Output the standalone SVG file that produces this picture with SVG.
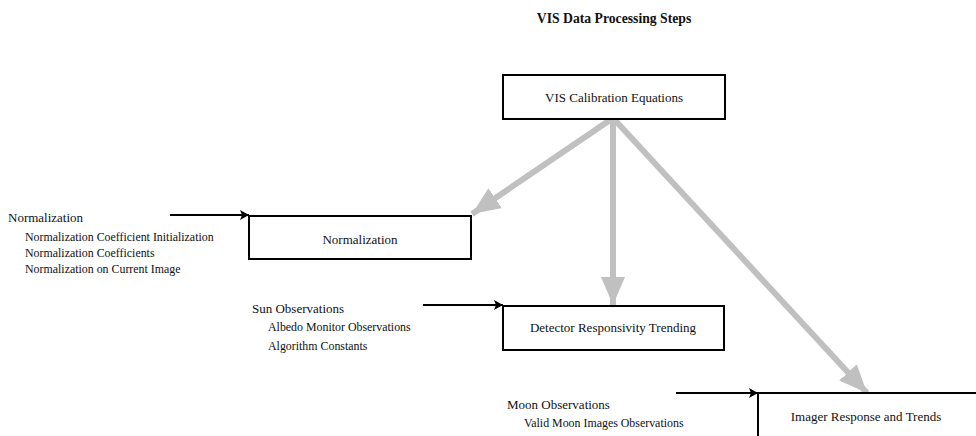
<svg xmlns="http://www.w3.org/2000/svg" width="976" height="436" viewBox="0 0 976 436" font-family="'Liberation Serif', 'DejaVu Serif', serif">
<style>
text{font-family:'Liberation Serif','DejaVu Serif',serif;fill:#111}
.title{font-size:13.7px;font-weight:bold}
.box{fill:#fff;stroke:#000;stroke-width:2}
.bl{font-size:13px;text-anchor:middle}
.h{font-size:13px}
.s{font-size:11.9px}
.g{stroke:#c0c0c0;stroke-width:6;fill:none}
.k{stroke:#000;stroke-width:2;fill:none}
</style>
<defs>
<marker id="ga" markerUnits="userSpaceOnUse" markerWidth="30" markerHeight="24" refX="28" refY="12" orient="auto">
<path d="M0,0 L28,12 L0,24 Z" fill="#c0c0c0"/>
</marker>
<marker id="ka" markerUnits="userSpaceOnUse" markerWidth="10" markerHeight="10" refX="9" refY="5" orient="auto">
<path d="M0,0 L9,5 L0,10 L2,5 Z" fill="#000"/>
</marker>
</defs>
<rect width="976" height="436" fill="#fff"/>
<text class="title" x="614" y="23" text-anchor="middle">VIS Data Processing Steps</text>

<g id="connectors">
<line class="g" x1="613" y1="118" x2="472" y2="214" marker-end="url(#ga)"/>
<line class="g" x1="613" y1="118" x2="613" y2="305" marker-end="url(#ga)"/>
<line class="g" x1="613" y1="118" x2="867" y2="393" marker-end="url(#ga)"/>
<line class="k" x1="170" y1="215" x2="249" y2="215" marker-end="url(#ka)"/>
<line class="k" x1="423" y1="305" x2="503" y2="305" marker-end="url(#ka)"/>
<line class="k" x1="676" y1="393" x2="758" y2="393" marker-end="url(#ka)"/>
</g>

<g id="vis-cal">
<rect class="box" x="503" y="75" width="222" height="44"/>
<text class="bl" x="614" y="102">VIS Calibration Equations</text>
</g>
<g id="normalization">
<rect class="box" x="249" y="216" width="222" height="43"/>
<text class="bl" x="360" y="244">Normalization</text>
</g>
<g id="detector">
<rect class="box" x="503" y="306" width="221" height="44"/>
<text class="bl" x="613" y="332">Detector Responsivity Trending</text>
</g>
<g id="imager">
<rect class="box" x="758" y="393" width="240" height="60"/>
<text class="bl" x="866" y="421">Imager Response and Trends</text>
</g>

<g id="norm-inputs">
<text class="h" x="8" y="222">Normalization</text>
<text class="s" x="25" y="241">Normalization Coefficient Initialization</text>
<text class="s" x="25" y="257">Normalization Coefficients</text>
<text class="s" x="25" y="273">Normalization on Current Image</text>
</g>
<g id="sun-inputs">
<text class="h" x="252" y="313">Sun Observations</text>
<text class="s" x="268" y="331">Albedo Monitor Observations</text>
<text class="s" x="268" y="350">Algorithm Constants</text>
</g>
<g id="moon-inputs">
<text class="h" x="507" y="409">Moon Observations</text>
<text class="s" x="524" y="427">Valid Moon Images Observations</text>
</g>
</svg>
